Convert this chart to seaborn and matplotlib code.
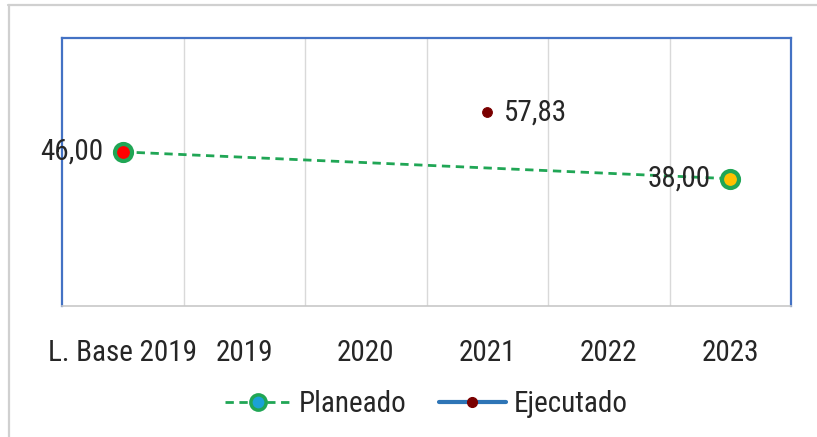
import numpy as np
import pandas as pd
import matplotlib
matplotlib.use("Agg")
import matplotlib.pyplot as plt
from matplotlib.lines import Line2D
from matplotlib import font_manager
import seaborn as sns

# ---- data ----
categories = ["L. Base 2019", "2019", "2020", "2021", "2022", "2023"]
planeado = [46.00, np.nan, np.nan, np.nan, np.nan, 38.00]
ejecutado = [np.nan, np.nan, np.nan, 57.83, np.nan, np.nan]
series_names = ["Planeado", "Ejecutado"]

# ---- styles ----
GREEN = "#20A655"
BLUE_LINE = "#2E75B6"
DARK_RED = "#7A0000"
TEXT = "#262626"
planeado_fills = ["#FF0000", None, None, None, None, "#FFC000"]
legend_fill = "#1BA1D6"

sns.set_theme(style="white")

# choose the narrowest available font
entries = font_manager.fontManager.ttflist
names = {f.name for f in entries}
condensed = {"condensed", "semi-condensed", "extra-condensed", "ultra-condensed", 75, 62.5, 87.5, 50}
family = None
stretch = "normal"
FS = 15
for cand in ["Liberation Sans Narrow", "Roboto Condensed", "Open Sans Condensed",
             "Noto Sans Condensed", "Arial Narrow"]:
    if cand in names:
        family, FS = cand, 21
        break
if family is None:
    for cand in ["Roboto", "Noto Sans", "Open Sans", "DejaVu Sans", "Liberation Sans"]:
        if any(f.name == cand and f.stretch in condensed for f in entries):
            family, stretch, FS = cand, "condensed", 20
            break
if family is None:
    family = "DejaVu Sans"
plt.rcParams["font.family"] = [family, "DejaVu Sans"]
plt.rcParams["font.stretch"] = stretch

fig = plt.figure(figsize=(8.17, 4.37), dpi=100)
ax = fig.add_axes([62 / 817, 1 - 306 / 437, (791 - 62) / 817, (306 - 38) / 437])

x = np.arange(len(categories))
df = pd.DataFrame({"x": x, "cat": categories, "Planeado": planeado, "Ejecutado": ejecutado})

dp = df.dropna(subset=["Planeado"])
sns.lineplot(data=dp, x="x", y="Planeado", ax=ax, color=GREEN, linestyle=(0, (3, 2)),
             linewidth=2, legend=False, zorder=3)
for i, row in dp.iterrows():
    sns.scatterplot(x=[row["x"]], y=[row["Planeado"]], ax=ax, s=150,
                    color=planeado_fills[i], edgecolor=GREEN, linewidth=3,
                    legend=False, zorder=4)

de = df.dropna(subset=["Ejecutado"])
sns.lineplot(data=de, x="x", y="Ejecutado", ax=ax, color=BLUE_LINE, linewidth=3,
             marker="o", markersize=7, markerfacecolor=DARK_RED, markeredgecolor=DARK_RED,
             legend=False, zorder=5)

# data labels
for _, row in dp.iterrows():
    ax.annotate(f"{row['Planeado']:.2f}".replace(".", ","), (row["x"], row["Planeado"]),
                xytext=(-14, 0), textcoords="offset points", ha="right", va="center",
                fontsize=FS, color=TEXT, zorder=6)
for _, row in de.iterrows():
    ax.annotate(f"{row['Ejecutado']:.2f}".replace(".", ","), (row["x"], row["Ejecutado"]),
                xytext=(12, 0), textcoords="offset points", ha="left", va="center",
                fontsize=FS, color=TEXT, zorder=6)

ax.set_xlim(-0.5, len(categories) - 0.5)
ax.set_ylim(0, 80)
ax.set_xticks(x)
ax.set_xticklabels(categories, fontsize=FS, color=TEXT)
ax.set_xticks(np.arange(len(categories) - 1) + 0.5, minor=True)
ax.set_yticks([])
ax.tick_params(axis="x", which="both", length=0, pad=24)
ax.grid(False)
ax.grid(True, which="minor", axis="x", color="#D9D9D9", linewidth=1)
ax.set_xlabel("")
ax.set_ylabel("")
for s in ["top", "left", "right"]:
    ax.spines[s].set_color("#4472C4")
    ax.spines[s].set_linewidth(1.6)
ax.spines["bottom"].set_color("#C8C8C8")
ax.spines["bottom"].set_linewidth(1.2)

handles = [
    Line2D([], [], color=GREEN, linestyle=(0, (3, 2)), linewidth=2, marker="o",
           markersize=11, markerfacecolor=legend_fill, markeredgecolor=GREEN, markeredgewidth=2.5),
    Line2D([], [], color=BLUE_LINE, linewidth=3, marker="o", markersize=7,
           markerfacecolor=DARK_RED, markeredgecolor=DARK_RED),
]
fig.legend(handles, series_names, loc="center", bbox_to_anchor=(426 / 817, 1 - 404 / 437),
           ncol=2, frameon=False, fontsize=FS, handlelength=2.3, handletextpad=0.25,
           columnspacing=1.1, labelcolor=TEXT)

# outer chart frame (top and left edges)
fig.add_artist(Line2D([8 / 817, 1], [1 - 4.5 / 437, 1 - 4.5 / 437], color="#D0D0D0", linewidth=1.6))
fig.add_artist(Line2D([9 / 817, 9 / 817], [0, 1 - 4.5 / 437], color="#D0D0D0", linewidth=1.6))

fig.savefig("out.png", dpi=100)
